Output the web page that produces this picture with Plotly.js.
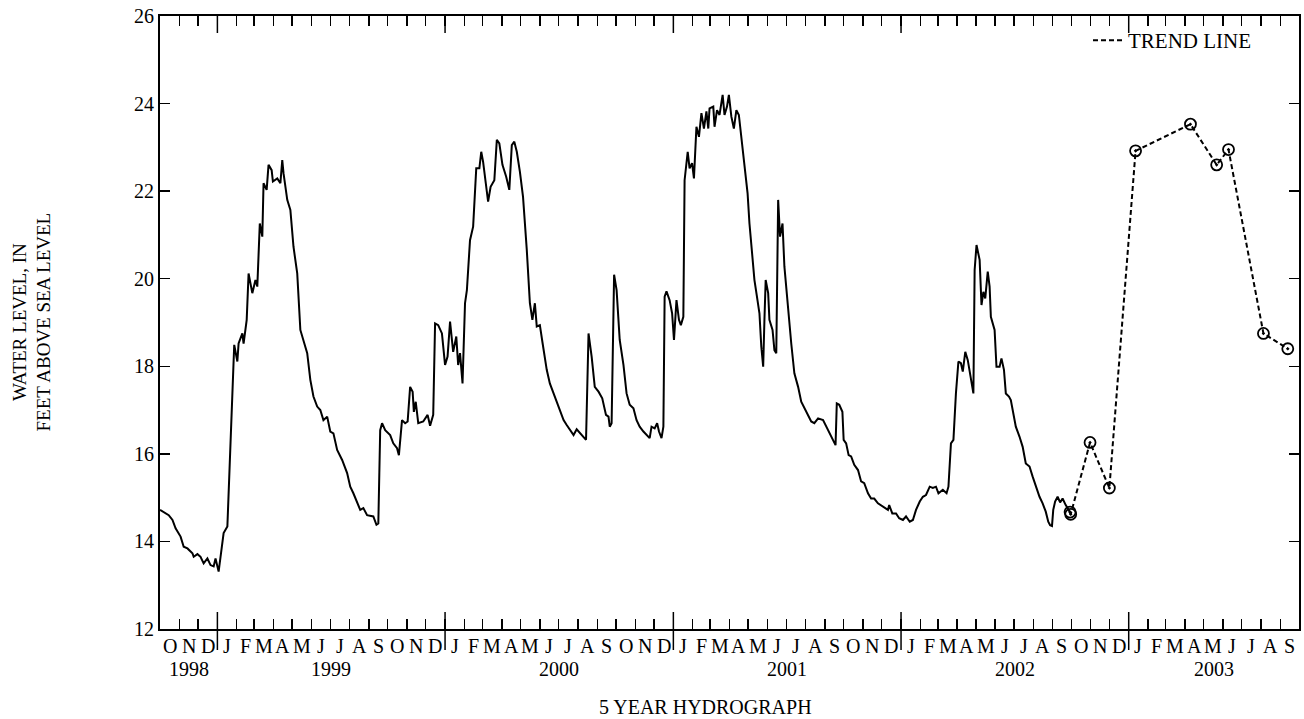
<!DOCTYPE html>
<html>
<head>
<meta charset="utf-8">
<script src="https://cdn.plot.ly/plotly-3.0.1.min.js"></script>
<style>
  html, body { margin: 0; padding: 0; background: #ffffff; }
  #chart { width: 1304px; height: 719px; }
</style>
</head>
<body>
<div id="chart"></div>
<script>
// Continuous water-level record, Oct 1998 - Sep 2002 (feet above sea level)
const recordDates = [
  '1998-10-01','1998-10-15','1998-10-21','1998-10-26','1998-11-03','1998-11-08','1998-11-14','1998-11-22',
  '1998-11-24','1998-11-30','1998-12-05','1998-12-10','1998-12-16','1998-12-21','1998-12-26','1998-12-29',
  '1999-01-03','1999-01-06','1999-01-11','1999-01-17','1999-01-19','1999-01-22','1999-01-25','1999-01-28',
  '1999-02-02','1999-02-04','1999-02-10','1999-02-12','1999-02-17','1999-02-20','1999-02-26','1999-03-03',
  '1999-03-06','1999-03-10','1999-03-14','1999-03-16','1999-03-21','1999-03-24','1999-03-29','1999-03-31',
  '1999-04-07','1999-04-12','1999-04-15','1999-04-17','1999-04-23','1999-04-28','1999-05-03','1999-05-09',
  '1999-05-14','1999-05-19','1999-05-25','1999-05-30','1999-06-04','1999-06-10','1999-06-15','1999-06-20',
  '1999-06-26','1999-07-01','1999-07-06','1999-07-12','1999-07-20','1999-07-28','1999-08-02','1999-08-07',
  '1999-08-13','1999-08-18','1999-08-23','1999-08-29','1999-09-08','1999-09-13','1999-09-16','1999-09-19',
  '1999-09-22','1999-09-27','1999-10-05','1999-10-10','1999-10-16','1999-10-19','1999-10-24','1999-10-29',
  '1999-11-02','1999-11-06','1999-11-10','1999-11-12','1999-11-15','1999-11-19','1999-11-27','1999-12-04',
  '1999-12-08','1999-12-13','1999-12-16','1999-12-21','1999-12-27','2000-01-01','2000-01-05','2000-01-09',
  '2000-01-14','2000-01-19','2000-01-22','2000-01-25','2000-01-29','2000-02-02','2000-02-05','2000-02-10',
  '2000-02-15','2000-02-20','2000-02-25','2000-02-28','2000-03-02','2000-03-07','2000-03-10','2000-03-14',
  '2000-03-20','2000-03-24','2000-03-28','2000-04-02','2000-04-08','2000-04-13','2000-04-17','2000-04-21',
  '2000-04-25','2000-04-30','2000-05-05','2000-05-11','2000-05-16','2000-05-20','2000-05-24','2000-05-27',
  '2000-06-01','2000-06-05','2000-06-12','2000-06-17','2000-06-23','2000-06-28','2000-07-04','2000-07-09',
  '2000-07-14','2000-07-19','2000-07-25','2000-07-30','2000-08-07','2000-08-14','2000-08-18','2000-08-23',
  '2000-08-28','2000-09-03','2000-09-09','2000-09-15','2000-09-19','2000-09-21','2000-09-24','2000-09-28',
  '2000-10-02','2000-10-07','2000-10-13','2000-10-18','2000-10-23','2000-10-29','2000-11-03','2000-11-08',
  '2000-11-14','2000-11-19','2000-11-24','2000-11-27','2000-12-02','2000-12-06','2000-12-09','2000-12-13',
  '2000-12-16','2000-12-18','2000-12-21','2000-12-26','2000-12-30','2001-01-02','2001-01-06','2001-01-10',
  '2001-01-13','2001-01-17','2001-01-19','2001-01-24','2001-01-27','2001-01-31','2001-02-03','2001-02-07',
  '2001-02-11','2001-02-15','2001-02-19','2001-02-23','2001-02-26','2001-02-28','2001-03-06','2001-03-08',
  '2001-03-12','2001-03-16','2001-03-21','2001-03-24','2001-03-28','2001-03-31','2001-04-04','2001-04-08',
  '2001-04-12','2001-04-16','2001-04-20','2001-04-25','2001-04-30','2001-05-03','2001-05-07','2001-05-11',
  '2001-05-15','2001-05-19','2001-05-22','2001-05-25','2001-05-27','2001-05-29','2001-06-02','2001-06-04',
  '2001-06-09','2001-06-12','2001-06-15','2001-06-18','2001-06-21','2001-06-25','2001-06-28','2001-07-04',
  '2001-07-09','2001-07-14','2001-07-20','2001-07-25','2001-07-30','2001-08-05','2001-08-10','2001-08-15',
  '2001-08-21','2001-08-29','2001-09-03','2001-09-08','2001-09-14','2001-09-18','2001-09-20','2001-09-24',
  '2001-09-29','2001-10-01','2001-10-05','2001-10-09','2001-10-13','2001-10-18','2001-10-24','2001-10-29',
  '2001-11-03','2001-11-09','2001-11-14','2001-11-19','2001-11-25','2001-12-03','2001-12-11','2001-12-13',
  '2001-12-18','2001-12-24','2001-12-29','2002-01-04','2002-01-09','2002-01-15','2002-01-20','2002-01-25',
  '2002-01-31','2002-02-05','2002-02-10','2002-02-16','2002-02-21','2002-02-26','2002-03-02','2002-03-09',
  '2002-03-15','2002-03-18','2002-03-22','2002-03-26','2002-03-30','2002-04-03','2002-04-07','2002-04-10',
  '2002-04-14','2002-04-18','2002-04-22','2002-04-26','2002-04-27','2002-04-29','2002-05-02','2002-05-07',
  '2002-05-10','2002-05-13','2002-05-16','2002-05-20','2002-05-23','2002-05-25','2002-05-31','2002-06-03',
  '2002-06-08','2002-06-11','2002-06-15','2002-06-18','2002-06-23','2002-06-26','2002-06-30','2002-07-04',
  '2002-07-10','2002-07-15','2002-07-20','2002-07-26','2002-07-31','2002-08-05','2002-08-11','2002-08-16',
  '2002-08-21','2002-08-25','2002-08-28','2002-08-31','2002-09-02','2002-09-05','2002-09-09','2002-09-13',
  '2002-09-17','2002-09-22','2002-09-27','2002-09-29'
];
const waterLevel = [
  14.72,14.60,14.49,14.30,14.11,13.88,13.84,13.73,
  13.65,13.71,13.65,13.50,13.61,13.46,13.43,13.61,
  13.31,13.65,14.19,14.34,15.18,16.32,17.46,18.49,
  18.11,18.52,18.75,18.52,19.06,20.12,19.67,19.97,
  19.82,21.26,20.96,22.18,22.03,22.60,22.48,22.22,
  22.29,22.18,22.71,22.41,21.80,21.57,20.73,20.12,
  18.83,18.60,18.30,17.69,17.31,17.08,17.00,16.77,
  16.85,16.51,16.47,16.09,15.86,15.56,15.25,15.10,
  14.87,14.72,14.76,14.60,14.57,14.38,14.41,16.54,
  16.70,16.54,16.43,16.24,16.13,15.97,16.77,16.70,
  16.74,17.53,17.42,16.96,17.19,16.70,16.74,16.89,
  16.64,16.89,18.98,18.94,18.75,18.03,18.22,19.02,
  18.33,18.68,18.03,18.30,17.61,19.44,19.74,20.88,
  21.19,22.52,22.52,22.90,22.67,22.10,21.76,22.10,
  22.25,23.17,23.09,22.60,22.33,22.03,23.05,23.13,
  22.90,22.44,21.87,20.66,19.44,19.06,19.44,18.91,
  18.94,18.56,17.92,17.61,17.38,17.19,17.00,16.77,
  16.66,16.55,16.43,16.56,16.43,16.32,18.75,18.22,
  17.53,17.42,17.27,16.89,16.85,16.62,16.70,20.09,
  19.74,18.60,18.03,17.38,17.12,17.04,16.77,16.62,
  16.51,16.43,16.36,16.62,16.58,16.70,16.51,16.36,
  16.62,19.59,19.71,19.51,19.21,18.60,19.51,19.06,
  18.94,19.13,22.25,22.90,22.52,22.64,22.29,23.47,
  23.24,23.78,23.43,23.82,23.43,23.89,23.93,23.47,
  23.85,23.74,24.20,23.74,23.93,24.20,23.70,23.43,
  23.85,23.74,23.24,22.64,21.95,21.26,20.62,19.97,
  19.59,19.21,18.45,17.99,19.06,19.97,19.67,19.06,
  18.83,18.37,18.30,21.80,20.96,21.26,20.28,19.21,
  18.52,17.84,17.53,17.19,17.04,16.89,16.74,16.70,
  16.81,16.77,16.62,16.47,16.32,16.20,17.15,17.12,
  16.96,16.32,16.24,15.97,15.94,15.75,15.63,15.37,
  15.33,15.10,14.98,14.98,14.87,14.79,14.72,14.83,
  14.64,14.64,14.53,14.49,14.57,14.45,14.49,14.72,
  14.91,15.02,15.06,15.25,15.22,15.25,15.10,15.18,
  15.10,15.25,16.24,16.32,17.38,18.11,18.07,17.88,
  18.33,18.14,17.84,17.46,17.38,20.20,20.77,20.43,
  19.40,19.70,19.55,20.16,19.82,19.13,18.83,17.99,
  17.99,18.18,17.92,17.38,17.31,17.23,16.93,16.62,
  16.39,16.16,15.78,15.71,15.48,15.25,15.02,14.87,
  14.68,14.45,14.37,14.35,14.72,14.91,15.02,14.89,
  14.98,14.83,14.72,14.64
];

// Periodic measurements joined by the trend line, Sep 2002 - Sep 2003
const trendDates = ['2002-09-29','2002-09-30','2002-10-31','2002-12-01','2003-01-12',
                    '2003-04-10','2003-05-22','2003-06-10','2003-08-05','2003-09-13'];
const trendLevel = [14.67,14.62,16.26,15.22,22.92,23.53,22.60,22.95,18.75,18.40];

// Axis labelling
const monthLetters = ['J','F','M','A','M','J','J','A','S','O','N','D'];
const yearLabels = ['1998','1999','2000','2001','2002','2003'];
const axisStart = '1998-10-01';
const axisEnd = '2003-10-01';
const levelRange = [12, 26];

const FONT = '"Liberation Serif", "Times New Roman", Times, serif';

// Month boundaries and mid-month positions across the axis range
const monthStarts = [];
const monthMids = [];
const monthText = [];
{
  let y = 1998, m = 9; // October 1998 (0-based month)
  const endT = Date.UTC(2003, 9, 1);
  while (Date.UTC(y, m, 1) < endT) {
    const t0 = Date.UTC(y, m, 1);
    const t1 = Date.UTC(y, m + 1, 1);
    monthStarts.push(new Date(t0).toISOString().slice(0, 10));
    monthMids.push(new Date((t0 + t1) / 2).toISOString().slice(0, 19).replace('T', ' '));
    monthText.push(monthLetters[m]);
    m++; if (m > 11) { m = 0; y++; }
  }
}
const tStart = Date.parse(axisStart), tEnd = Date.parse(axisEnd);
const yearMids = yearLabels.map(function (yr) {
  const a = Math.max(Date.UTC(+yr, 0, 1), tStart);
  const b = Math.min(Date.UTC(+yr + 1, 0, 1), tEnd);
  return new Date((a + b) / 2).toISOString().slice(0, 19).replace('T', ' ');
});
const yearStarts = yearLabels.slice(1).map(function (yr) { return yr + '-01-01'; });

const plotW = 1304 - 160 - 5;
const plotH = 719 - 16 - 90;

const annotations = [];
monthMids.forEach(function (d, i) {
  annotations.push({
    x: d, y: 0, xref: 'x', yref: 'paper', text: monthText[i], showarrow: false,
    yanchor: 'top', xanchor: 'center', yshift: -4,
    font: { family: FONT, size: 20, color: '#000' }
  });
});
yearMids.forEach(function (d, i) {
  annotations.push({
    x: d, y: 0, xref: 'x', yref: 'paper', text: yearLabels[i], showarrow: false,
    yanchor: 'top', xanchor: 'center', yshift: -27,
    font: { family: FONT, size: 20, color: '#000' }
  });
});
annotations.push({
  x: (705 - 160) / plotW, y: 0, xref: 'paper', yref: 'paper', text: '5 YEAR HYDROGRAPH', showarrow: false,
  yanchor: 'middle', xanchor: 'center', yshift: -78,
  font: { family: FONT, size: 20, color: '#000' }
});
annotations.push({
  x: (31 - 160) / plotW, y: 0.5, xref: 'paper', yref: 'paper',
  text: 'WATER LEVEL, IN<br>FEET ABOVE SEA LEVEL', showarrow: false, textangle: -90,
  xanchor: 'center', yanchor: 'middle',
  font: { family: FONT, size: 19, color: '#000' }
});

// Longer ticks marking the start of each calendar year
const shapes = [];
yearStarts.forEach(function (d) {
  shapes.push({ type: 'line', xref: 'x', yref: 'paper', x0: d, x1: d,
    y0: -21 / plotH, y1: 17 / plotH, line: { color: '#000', width: 1.5 } });
  shapes.push({ type: 'line', xref: 'x', yref: 'paper', x0: d, x1: d,
    y0: 1 - 17 / plotH, y1: 1, line: { color: '#000', width: 1.5 } });
});

const traces = [
  {
    x: recordDates, y: waterLevel, type: 'scatter', mode: 'lines',
    line: { color: '#000', width: 2 }, showlegend: false, hoverinfo: 'x+y'
  },
  {
    x: trendDates, y: trendLevel, type: 'scatter', mode: 'lines+markers',
    line: { color: '#000', width: 2, dash: '5px,3px' },
    marker: { symbol: 'circle-open-dot', size: 11, color: '#000', line: { width: 1.8, color: '#000' } },
    showlegend: false
  },
  {
    x: [null], y: [null], type: 'scatter', mode: 'lines', name: 'TREND LINE',
    line: { color: '#000', width: 2, dash: '5px,3px' }, showlegend: true
  }
];

const layout = {
  width: 1304, height: 719,
  margin: { l: 160, r: 5, t: 16, b: 90 },
  paper_bgcolor: '#fff', plot_bgcolor: '#fff',
  font: { family: FONT, size: 20, color: '#000' },
  showlegend: true,
  legend: {
    x: (1088 - 160) / plotW, y: 1 - 4 / plotH, xanchor: 'left', yanchor: 'top',
    bgcolor: 'rgba(0,0,0,0)', borderwidth: 0,
    font: { family: FONT, size: 21, color: '#000' }
  },
  xaxis: {
    type: 'date', range: [axisStart, axisEnd],
    tickmode: 'array', tickvals: monthStarts, showticklabels: false,
    ticks: 'inside', ticklen: 10, tickwidth: 1.5, tickcolor: '#000',
    showline: true, linecolor: '#000', linewidth: 2, mirror: 'allticks',
    showgrid: false, zeroline: false, fixedrange: true
  },
  yaxis: {
    range: levelRange, tickmode: 'linear', tick0: 12, dtick: 2,
    ticks: 'inside', ticklen: 10, tickwidth: 1.5, tickcolor: '#000',
    showline: true, linecolor: '#000', linewidth: 2, mirror: 'allticks',
    showgrid: false, zeroline: false, fixedrange: true,
    tickfont: { family: FONT, size: 20, color: '#000' }
  },
  annotations: annotations,
  shapes: shapes
};

Plotly.newPlot('chart', traces, layout, { staticPlot: true, displayModeBar: false });
</script>
</body>
</html>
